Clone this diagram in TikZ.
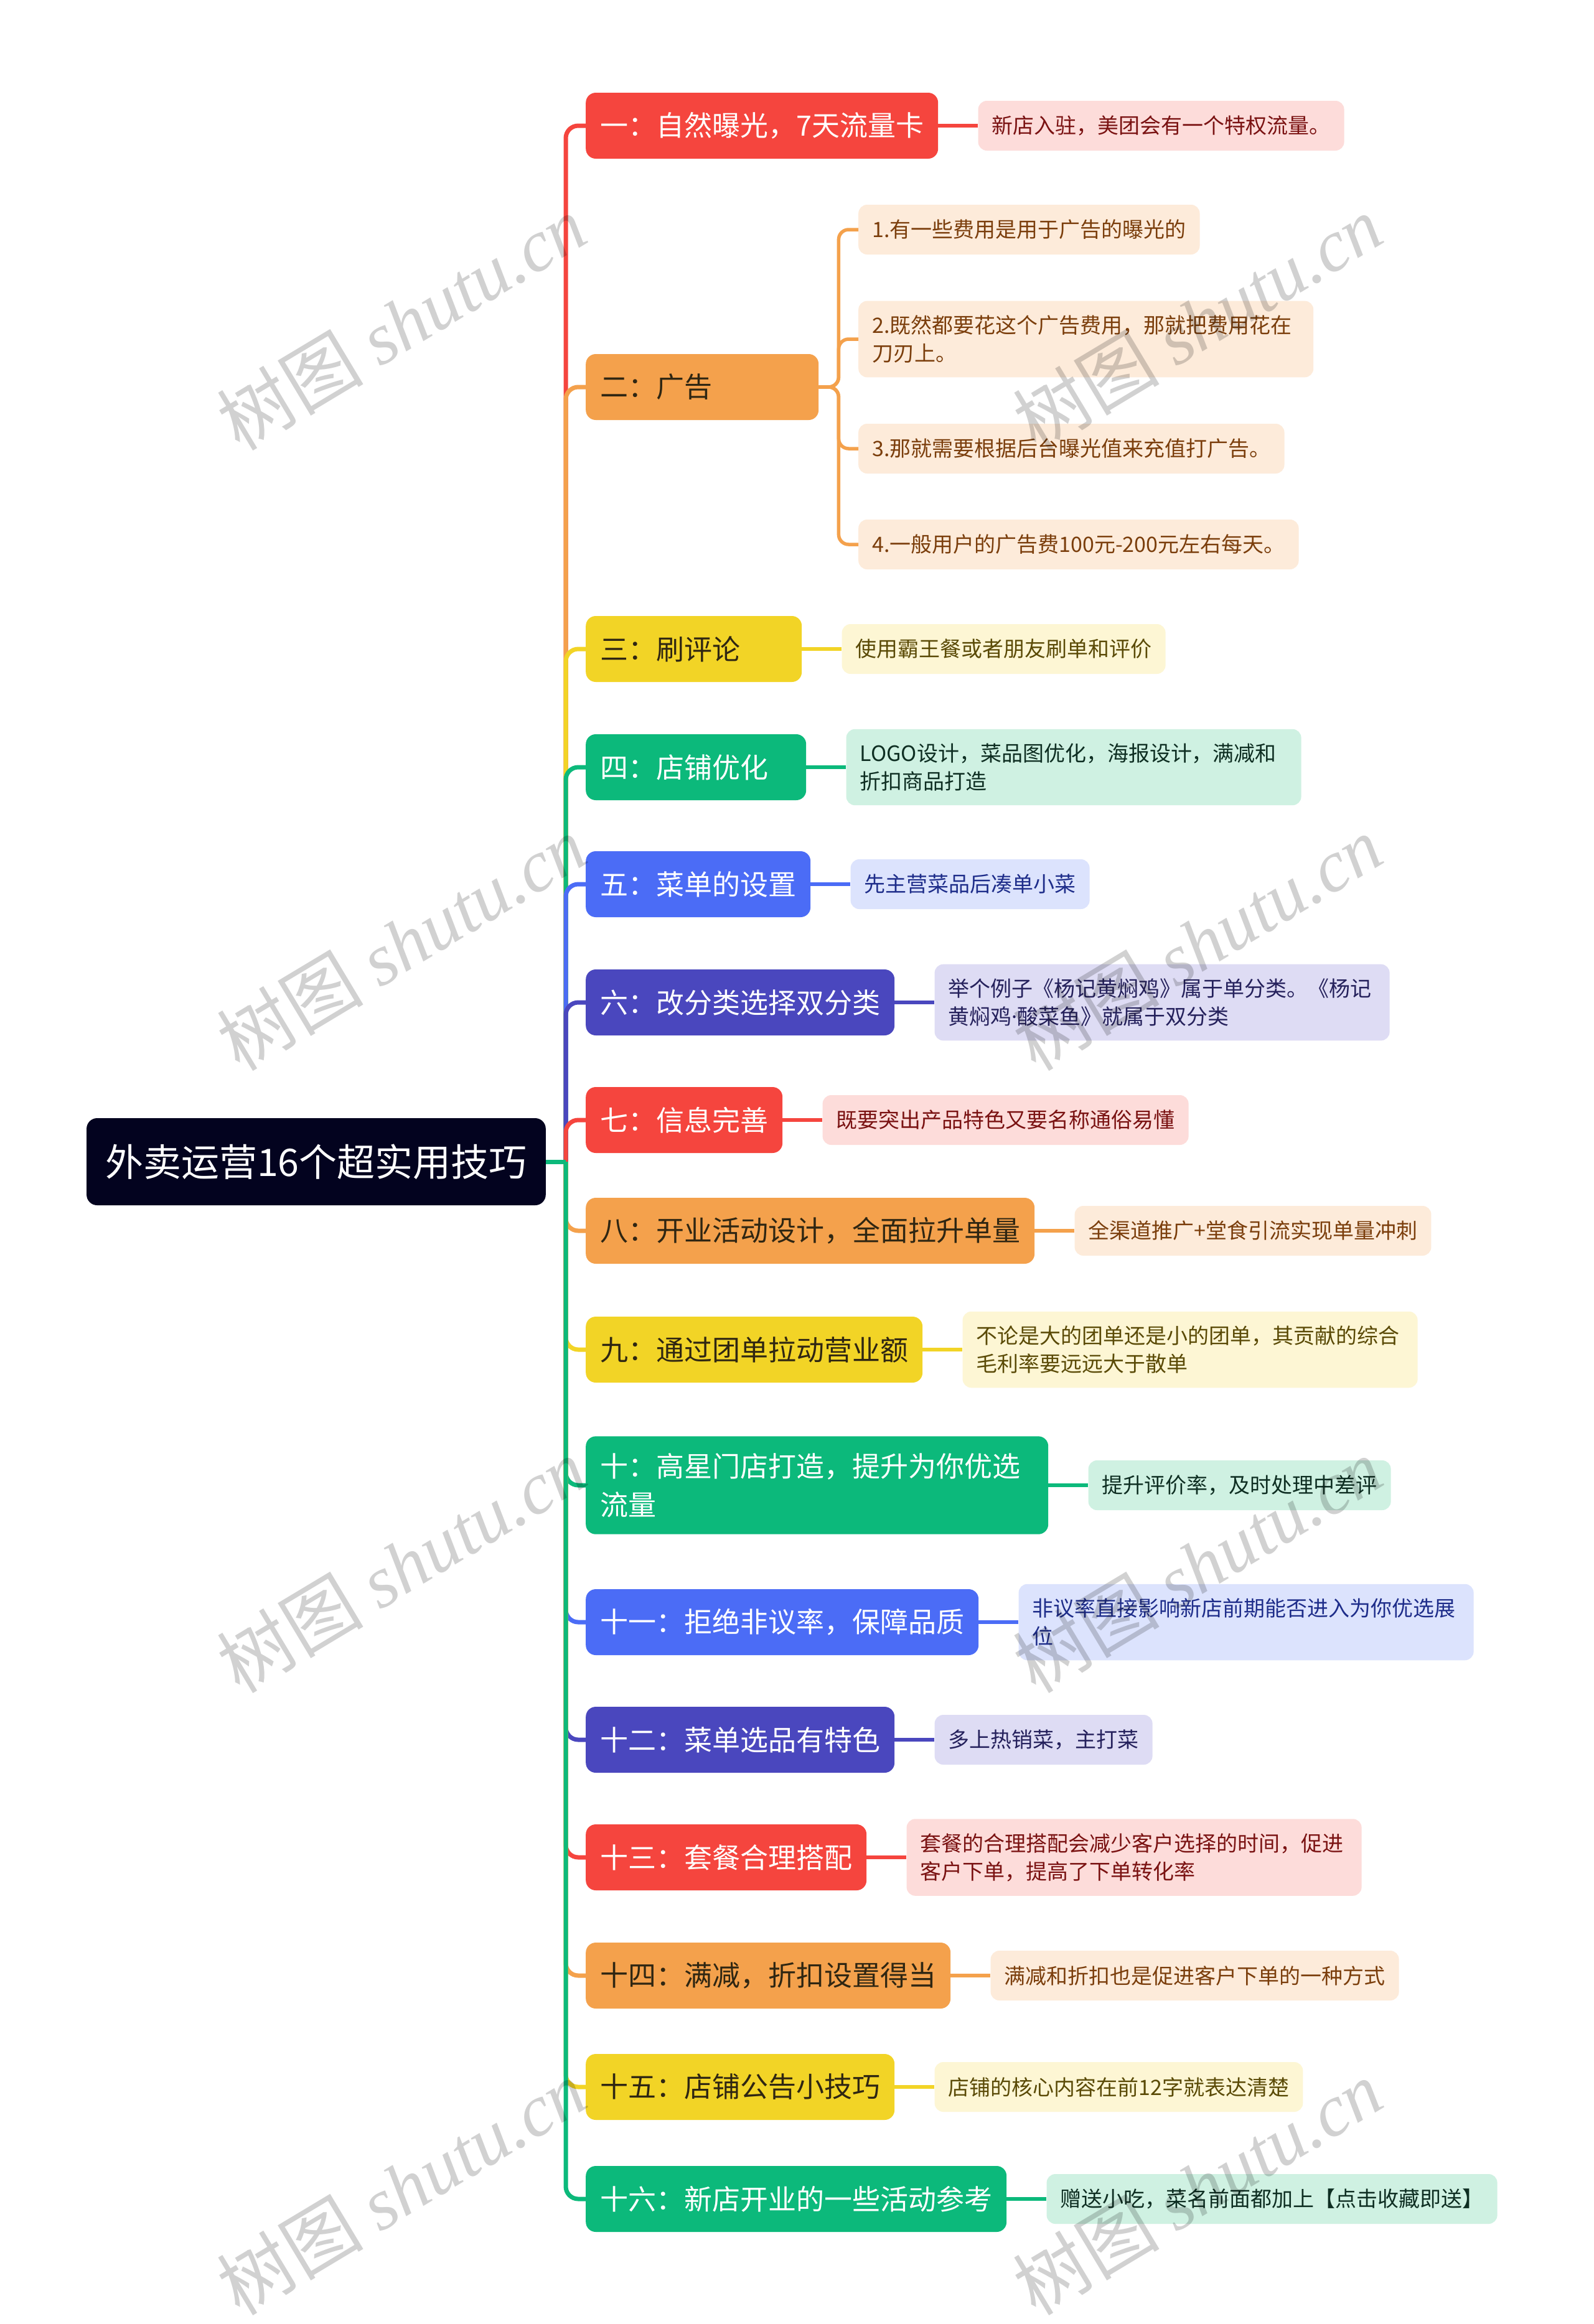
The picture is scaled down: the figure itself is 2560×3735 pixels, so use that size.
\documentclass[tikz,border=0pt]{standalone}
\usepackage{fontspec}
\setmainfont{Noto Sans CJK SC}
\newfontfamily\wmfont{Liberation Serif}
\newfontfamily\dotfont{Noto Sans}
\usepackage{tikz}
\usetikzlibrary{positioning}

\definecolor{rootbg}{HTML}{03031F}
\definecolor{cred}{HTML}{F5453E}
\definecolor{corange}{HTML}{F4A14C}
\definecolor{cyellow}{HTML}{F2D426}
\definecolor{cgreen}{HTML}{0CB97B}
\definecolor{cblue}{HTML}{4B6CF6}
\definecolor{cindigo}{HTML}{4A47BE}
\definecolor{lred}{HTML}{FDDCDA}
\definecolor{lorange}{HTML}{FDEBDA}
\definecolor{lyellow}{HTML}{FDF6D4}
\definecolor{lgreen}{HTML}{CFF1E2}
\definecolor{lblue}{HTML}{DCE3FD}
\definecolor{lindigo}{HTML}{DEDCF4}
\definecolor{tred}{HTML}{7A1212}
\definecolor{torange}{HTML}{7B3E0C}
\definecolor{tyellow}{HTML}{5A4A06}
\definecolor{tgreen}{HTML}{0E2E22}
\definecolor{tblue}{HTML}{1E2D8A}
\definecolor{tindigo}{HTML}{25215C}
\definecolor{tdark}{HTML}{2F2612}

\tikzset{
  root/.style={fill=rootbg, text=white, rounded corners=17pt, inner xsep=30pt,
    minimum height=140pt, anchor=east, font=\fontsize{61}{70}\selectfont},
  branch/.style 2 args={fill=#1, text=#2, rounded corners=16pt, inner xsep=23pt,
    inner ysep=27pt, minimum height=106pt, align=left, anchor=west,
    font=\fontsize{45}{62}\selectfont},
  leaf/.style 2 args={fill=#1, text=#2, rounded corners=14pt, inner xsep=22pt,
    inner ysep=23pt, minimum height=80pt, align=left,
    font=\fontsize{34}{45}\selectfont},
  wide/.style={text width=687pt},
  link/.style={line width=7pt, rounded corners=20pt},
  leaflink/.style={line width=5.5pt, rounded corners=16pt},
  wmark/.style={rotate=31, text=black, text opacity=0.18,
    font=\fontsize{118}{120}\selectfont}
}

\begin{document}
\begin{tikzpicture}[x=1pt, y=-1pt]
\fill[white] (0,0) rectangle (2560,3735);
\useasboundingbox (0,0) rectangle (2560,3735);

% centre
\node[root] (root) at (877,1867) {外卖运营16个超实用技巧};
\coordinate (trunk) at (909,1867);

% 一 .. 七
\node[branch={cred}{white}] (b1) at (941,202) {一：自然曝光，7天流量卡};
\node[leaf={lred}{tred}, right=64pt of b1] (l1) {新店入驻，美团会有一个特权流量。};

\node[branch={corange}{tdark}, text width=328pt] (b2) at (941,622) {二：广告};
\node[leaf={lorange}{torange}, anchor=west] (l2a) at (1379,369) {1.有一些费用是用于广告的曝光的};
\node[leaf={lorange}{torange}, wide, anchor=west] (l2b) at (1379,545) {2.既然都要花这个广告费用，那就把费用花在\\刀刃上。};
\node[leaf={lorange}{torange}, anchor=west] (l2c) at (1379,721) {3.那就需要根据后台曝光值来充值打广告。};
\node[leaf={lorange}{torange}, anchor=west] (l2d) at (1379,875) {4.一般用户的广告费100元-200元左右每天。};

\node[branch={cyellow}{tdark}, text width=301pt] (b3) at (941,1043) {三：刷评论};
\node[leaf={lyellow}{tyellow}, right=64pt of b3] (l3) {使用霸王餐或者朋友刷单和评价};

\node[branch={cgreen}{white}, text width=308pt] (b4) at (941,1233) {四：店铺优化};
\node[leaf={lgreen}{tgreen}, wide, right=64pt of b4] (l4) {LOGO设计，菜品图优化，海报设计，满减和\\折扣商品打造};

\node[branch={cblue}{white}] (b5) at (941,1421) {五：菜单的设置};
\node[leaf={lblue}{tblue}, right=64pt of b5] (l5) {先主营菜品后凑单小菜};

\node[branch={cindigo}{white}] (b6) at (941,1611) {六：改分类选择双分类};
\node[leaf={lindigo}{tindigo}, wide, right=64pt of b6] (l6) {举个例子《杨记黄焖鸡》属于单分类。《杨记\\黄焖鸡{\dotfont ·}酸菜鱼》就属于双分类};

\node[branch={cred}{white}] (b7) at (941,1800) {七：信息完善};
\node[leaf={lred}{tred}, right=64pt of b7] (l7) {既要突出产品特色又要名称通俗易懂};

% 八 .. 十六
\node[branch={corange}{tdark}] (b8) at (941,1978) {八：开业活动设计，全面拉升单量};
\node[leaf={lorange}{torange}, right=64pt of b8] (l8) {全渠道推广+堂食引流实现单量冲刺};

\node[branch={cyellow}{tdark}] (b9) at (941,2169) {九：通过团单拉动营业额};
\node[leaf={lyellow}{tyellow}, wide, right=64pt of b9] (l9) {不论是大的团单还是小的团单，其贡献的综合\\毛利率要远远大于散单};

\node[branch={cgreen}{white}, text width=697pt] (b10) at (941,2387) {十：高星门店打造，提升为你优选\\流量};
\node[leaf={lgreen}{tgreen}, right=64pt of b10] (l10) {提升评价率，及时处理中差评};

\node[branch={cblue}{white}] (b11) at (941,2607) {十一：拒绝非议率，保障品质};
\node[leaf={lblue}{tblue}, wide, right=64pt of b11] (l11) {非议率直接影响新店前期能否进入为你优选展\\位};

\node[branch={cindigo}{white}] (b12) at (941,2796) {十二：菜单选品有特色};
\node[leaf={lindigo}{tindigo}, right=64pt of b12] (l12) {多上热销菜，主打菜};

\node[branch={cred}{white}] (b13) at (941,2985) {十三：套餐合理搭配};
\node[leaf={lred}{tred}, wide, right=64pt of b13] (l13) {套餐的合理搭配会减少客户选择的时间，促进\\客户下单，提高了下单转化率};

\node[branch={corange}{tdark}] (b14) at (941,3175) {十四：满减，折扣设置得当};
\node[leaf={lorange}{torange}, right=64pt of b14] (l14) {满减和折扣也是促进客户下单的一种方式};

\node[branch={cyellow}{tdark}] (b15) at (941,3354) {十五：店铺公告小技巧};
\node[leaf={lyellow}{tyellow}, right=64pt of b15] (l15) {店铺的核心内容在前12字就表达清楚};

\node[branch={cgreen}{white}] (b16) at (941,3534) {十六：新店开业的一些活动参考};
\node[leaf={lgreen}{tgreen}, right=64pt of b16] (l16) {赠送小吃，菜名前面都加上【点击收藏即送】};

% trunk
\foreach \i/\c in {1/cred,2/corange,3/cyellow,4/cgreen,5/cblue,6/cindigo,7/cred,
    8/corange,9/cyellow,10/cgreen,11/cblue,12/cindigo,13/cred,14/corange,15/cyellow,16/cgreen} {
    \draw[link,\c] (trunk) |- (b\i.west);
}
\draw[link,cgreen] (root.east) -- (trunk);

% branch to leaf
\foreach \i/\c in {1/cred,3/cyellow,4/cgreen,5/cblue,6/cindigo,7/cred,8/corange,
    9/cyellow,10/cgreen,11/cblue,12/cindigo,13/cred,14/corange,15/cyellow,16/cgreen} {
    \draw[leaflink,\c] (b\i.east) -- (l\i.west);
}
\coordinate (b2j) at ([xshift=32pt]b2.east);
\foreach \j in {a,b,c,d} {
    \draw[leaflink,corange] (b2.east) -- (b2j) |- (l2\j.west);
}

% watermark
\foreach \x in {645,1924} {
    \foreach \y in {518,1515,2515,3515} {
        \node[wmark] (wm-\x-\y) at (\x,\y) {树图 {\wmfont\itshape shutu.cn}};
    }
}
\end{tikzpicture}
\end{document}
